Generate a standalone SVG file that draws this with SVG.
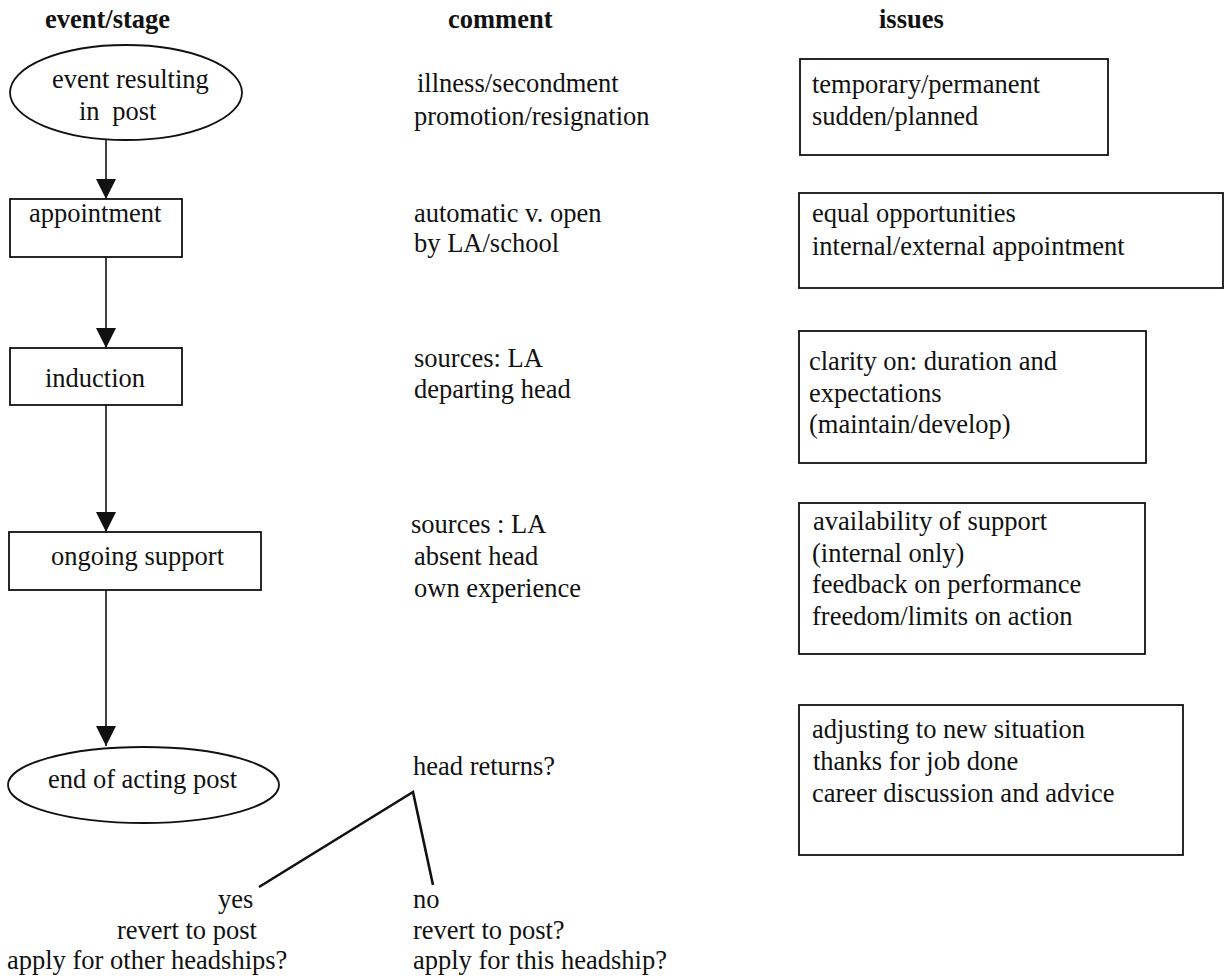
<svg xmlns="http://www.w3.org/2000/svg" width="1227" height="979" viewBox="0 0 1227 979">
<style>
text{font-family:"Liberation Serif","Times New Roman",serif;font-size:26.5px;fill:#111}
.h{font-weight:bold}
.box{fill:#fff;stroke:#111;stroke-width:1.8}
.conn{stroke:#111;stroke-width:1.6;fill:none}
.br{stroke:#111;stroke-width:2.6;fill:none}
</style>
<defs>
<marker id="arr" markerUnits="userSpaceOnUse" markerWidth="22" markerHeight="22" refX="20" refY="10" orient="auto">
<path d="M0,0 L20,10 L0,20 z" fill="#111"/>
</marker>
</defs>
<rect width="1227" height="979" fill="#fff"/>
<g id="headings">
<text class="h" x="45" y="28">event/stage</text>
<text class="h" x="448" y="28">comment</text>
<text class="h" x="879" y="28">issues</text>
</g>
<g id="connectors">
<line class="conn" x1="106" y1="139" x2="106" y2="199" marker-end="url(#arr)"/>
<line class="conn" x1="106" y1="257" x2="106" y2="348" marker-end="url(#arr)"/>
<line class="conn" x1="106" y1="405" x2="106" y2="532" marker-end="url(#arr)"/>
<line class="conn" x1="106" y1="590" x2="106" y2="746" marker-end="url(#arr)"/>
<polyline class="br" points="259,887 413,792 433,885"/>
</g>
<g id="n-event">
<ellipse class="box" cx="126" cy="92.5" rx="116" ry="47.5"/>
<text x="52" y="88">event resulting</text>
<text x="79" y="120" word-spacing="6">in post</text>
</g>
<g id="n-appointment">
<rect class="box" x="10" y="199" width="172" height="58"/>
<text x="29" y="222">appointment</text>
</g>
<g id="n-induction">
<rect class="box" x="10" y="348" width="172" height="57"/>
<text x="45" y="387">induction</text>
</g>
<g id="n-support">
<rect class="box" x="9" y="532" width="252" height="58"/>
<text x="51" y="565">ongoing support</text>
</g>
<g id="n-end">
<ellipse class="box" cx="143.5" cy="785" rx="135.5" ry="38"/>
<text x="48" y="788">end of acting post</text>
</g>
<g id="comments">
<text x="417" y="92">illness/secondment</text>
<text x="414" y="125">promotion/resignation</text>
<text x="414" y="222">automatic v. open</text>
<text x="414" y="252">by LA/school</text>
<text x="414" y="367">sources: LA</text>
<text x="414" y="398">departing head</text>
<text x="411" y="533">sources : LA</text>
<text x="414" y="565">absent head</text>
<text x="414" y="597">own experience</text>
<text x="413" y="775">head returns?</text>
</g>
<g id="i-1">
<rect class="box" x="800" y="59" width="308" height="96"/>
<text x="812" y="93">temporary/permanent</text>
<text x="812" y="125">sudden/planned</text>
</g>
<g id="i-2">
<rect class="box" x="799" y="193" width="424" height="95"/>
<text x="812" y="222">equal opportunities</text>
<text x="812" y="255">internal/external appointment</text>
</g>
<g id="i-3">
<rect class="box" x="799" y="331" width="347" height="132"/>
<text x="809" y="370">clarity on: duration and</text>
<text x="809" y="402">expectations</text>
<text x="809" y="433">(maintain/develop)</text>
</g>
<g id="i-4">
<rect class="box" x="799" y="503" width="346" height="151"/>
<text x="813" y="530">availability of support</text>
<text x="812" y="562">(internal only)</text>
<text x="812" y="593">feedback on performance</text>
<text x="812" y="625">freedom/limits on action</text>
</g>
<g id="i-5">
<rect class="box" x="799" y="705" width="384" height="150"/>
<text x="812" y="738">adjusting to new situation</text>
<text x="813" y="770">thanks for job done</text>
<text x="812" y="802">career discussion and advice</text>
</g>
<g id="o-yes">
<text x="218" y="908">yes</text>
<text x="117" y="939">revert to post</text>
<text x="7" y="969">apply for other headships?</text>
</g>
<g id="o-no">
<text x="413" y="908">no</text>
<text x="413" y="939">revert to post?</text>
<text x="413" y="969">apply for this headship?</text>
</g>
</svg>
